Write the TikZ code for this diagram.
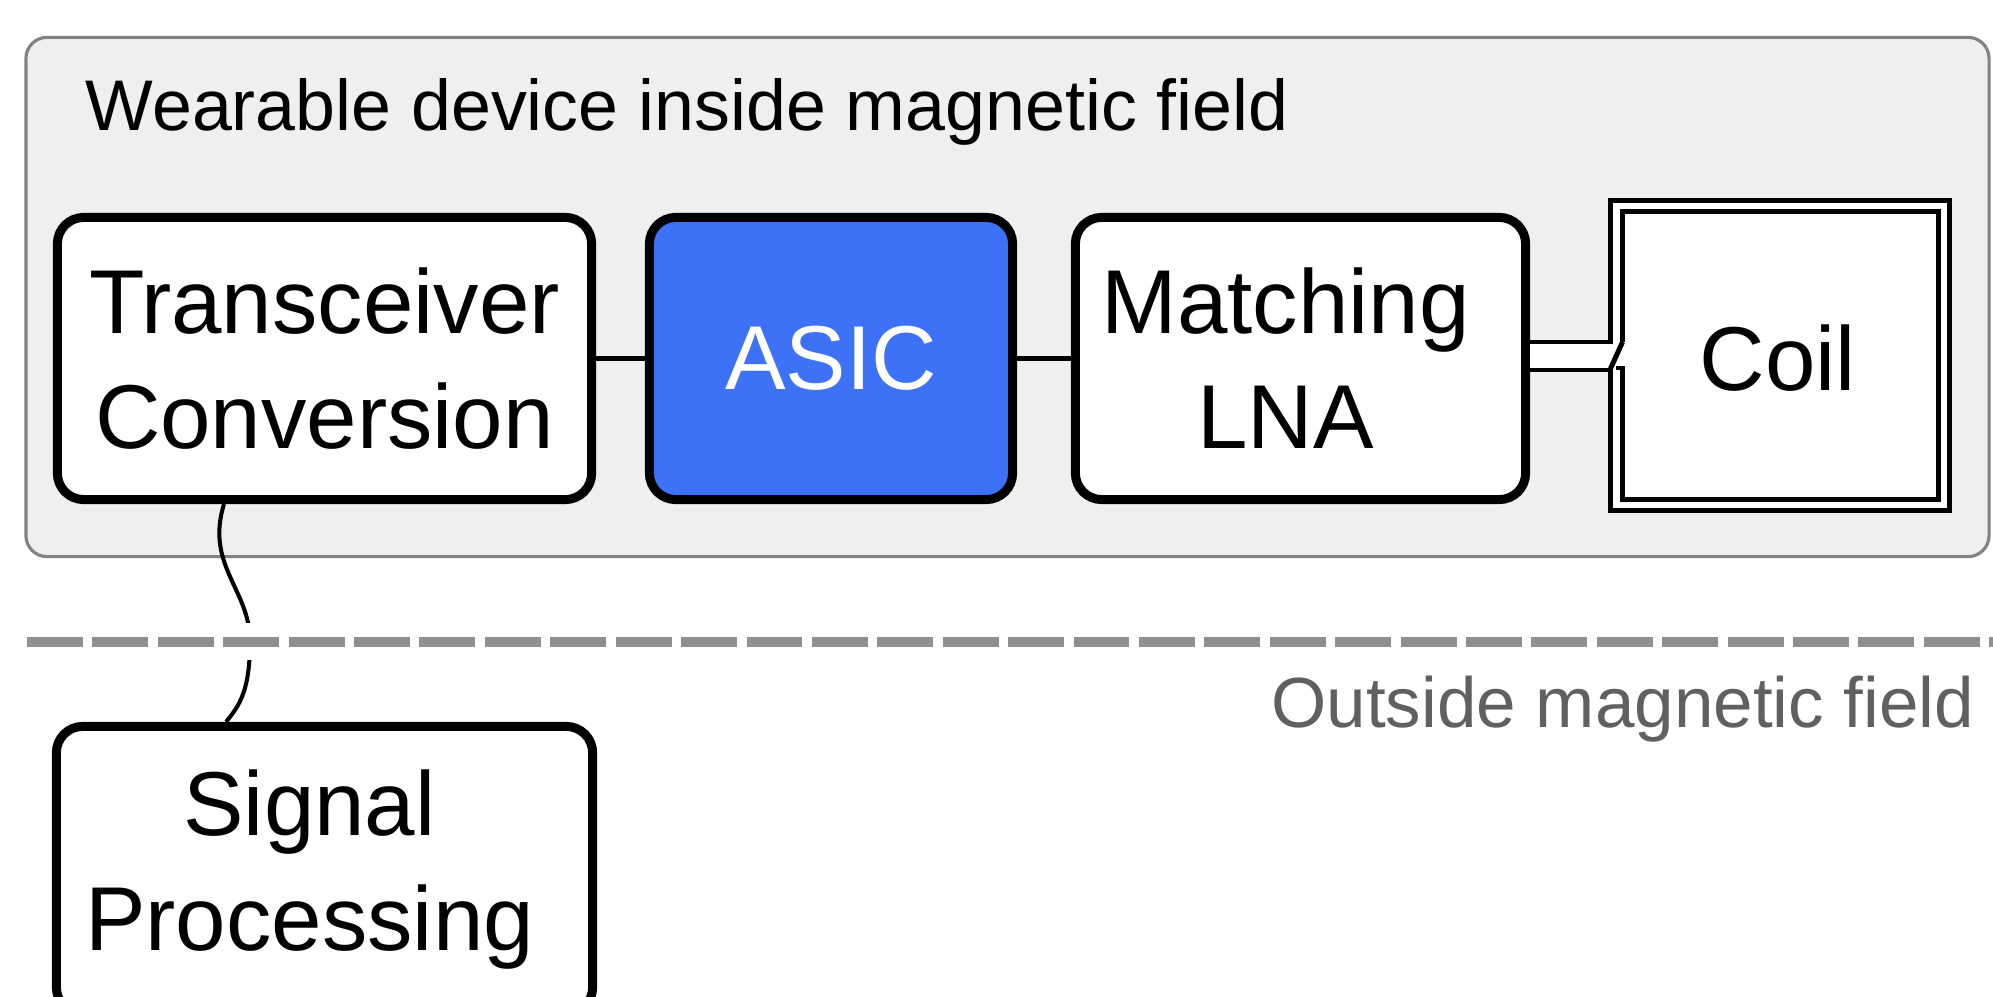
\documentclass[tikz,border=0pt]{standalone}
\usepackage{fontspec}
\setmainfont{Liberation Sans}
\definecolor{asicblue}{RGB}{61,114,247}
\definecolor{fieldfill}{RGB}{239,239,239}
\definecolor{fieldline}{RGB}{130,130,130}
\definecolor{dashgray}{RGB}{143,143,143}
\definecolor{outtext}{RGB}{96,96,96}
\newcommand\lsh{\hspace*{8.5pt}}
\tikzset{
  blk/.style={draw=black, line width=2.56pt, rounded corners=7.5pt, fill=white,
    align=center, inner sep=0pt, font=\fontsize{25.8}{32.7}\selectfont},
  wire/.style={draw=black, line width=1.42pt},
  link/.style={draw=black, line width=1.15pt},
  fieldbox/.style={draw=fieldline, fill=fieldfill, line width=0.9pt, rounded corners=6pt, inner sep=0pt},
  sep/.style={draw=dashgray, line width=2.85pt, dash pattern=on 15.9pt off 2.7pt},
}
\begin{document}
\begin{tikzpicture}[x=0.01cm,y=-0.01cm]
\useasboundingbox (0,0) rectangle (1993,997);
\fill[white] (0,0) rectangle (1993,997);
% field container
\node[fieldbox, minimum width=19.62cm, minimum height=5.19cm] (field) at (1007.5,297) {};
\node[anchor=base west, inner sep=0pt, font=\fontsize{20.4}{24}\selectfont] (title) at (85,131) {Wearable device inside magnetic field};
% blocks
\node[blk, minimum width=5.34cm, minimum height=2.82cm] (tc) at (324.5,358.5) {Transceiver\\Conversion};
\node[blk, fill=asicblue, text=white, minimum width=3.63cm, minimum height=2.82cm] (asic) at (831,358.5) {ASIC};
\node[blk, minimum width=4.50cm, minimum height=2.82cm] (mt) at (1300.5,358.5) {Matching\lsh\\LNA\lsh};
\node[blk, minimum width=5.36cm, minimum height=2.87cm] (sp) at (324.5,870) {Signal\lsh\\Processing\lsh};
% coil
\fill[white] (1610,200.5) rectangle (1949.5,510.5);
\fill[white] (mt.east |- 0,342) rectangle (1610,370);
\node[inner sep=0pt, font=\fontsize{25.8}{32.7}\selectfont, minimum width=3.28cm, minimum height=2.97cm] (coil) at (1778,358) {Coil};
\draw[wire] (mt.east |- 0,342) -- (1610,342) -- (1610,200.5) -- (1949.5,200.5) -- (1949.5,510.5) -- (1610,510.5) -- (1610,370) -- (mt.east |- 0,370);
\draw[wire] (1622.5,342) -- (1622.5,211.5) -- (1938.5,211.5) -- (1938.5,499.5) -- (1622.5,499.5) -- (1622.5,368) -- (1616,368);
\draw[wire] (1622.5,342) -- (1609,372);
% connectors
\draw[link] (tc) -- (asic);
\draw[link] (asic) -- (mt);
\coordinate (up) at (224,0);
\coordinate (dn) at (226,0);
\draw[link] (tc.south -| up) .. controls (205,565) and (250,590) .. (250,641) .. controls (250,690) and (240,705) .. (sp.north -| dn);
\fill[white] (232,623) rectangle (268,660);
% boundary
\draw[sep] (27,642) -- (2000,642);
\node[anchor=base east, inner sep=0pt, text=outtext, font=\fontsize{20.2}{24}\selectfont] (outside) at (1975,727) {Outside magnetic field};
\end{tikzpicture}
\end{document}
